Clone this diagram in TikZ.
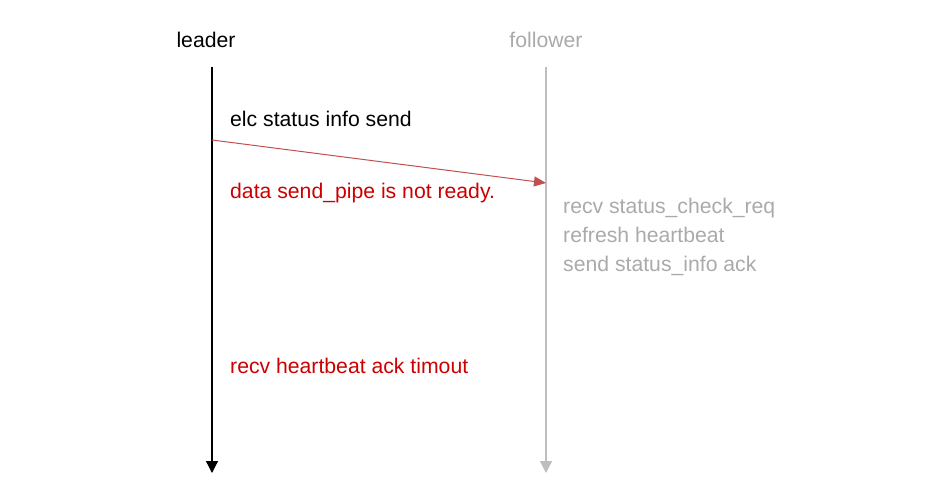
\documentclass[tikz,border=0pt]{standalone}
\usepackage{fontspec}
\setmainfont{Liberation Sans}
\usetikzlibrary{arrows.meta}
\definecolor{lgray}{RGB}{190,190,190}
\definecolor{tgray}{RGB}{170,170,170}
\definecolor{msgred}{RGB}{192,80,77}
\definecolor{txtred}{RGB}{204,0,0}
\begin{document}
\begin{tikzpicture}[x=1pt,y=-1pt,
  lbl/.style={inner sep=0pt,font=\fontsize{21.2}{25}\selectfont},
  lifeline/.style={line width=1.3pt,-{Triangle[length=12pt,width=12pt]}}]
\useasboundingbox (0,0) rectangle (931,502);
\node[lbl,anchor=base] (leader) at (206,48) {leader};
\node[lbl,anchor=base,text=tgray] (follower) at (546,48) {follower};
\coordinate (lt) at (212,67);
\coordinate (lb) at (212,473);
\coordinate (ft) at (546,67);
\coordinate (fb) at (546,473);
\draw[lifeline,black] (lt) -- (lb);
\draw[lifeline,lgray] (ft) -- (fb);
\coordinate (ms) at (212,140);
\coordinate (me) at (546,183);
\draw[msgred,line width=1pt,-{Triangle[length=12pt,width=10pt]}] (ms) -- (me);
\node[lbl,anchor=base west] (t1) at (230,127) {elc status info send};
\node[lbl,anchor=base west,text=txtred] (t2) at (230,199) {data send\_pipe is not ready.};
\node[lbl,anchor=base west,text=tgray] (t3) at (563,214) {recv status\_check\_req};
\node[lbl,anchor=base west,text=tgray] (t4) at (563,243) {refresh heartbeat};
\node[lbl,anchor=base west,text=tgray] (t5) at (563,272) {send status\_info ack};
\node[lbl,anchor=base west,text=txtred] (t6) at (230,373) {recv heartbeat ack timout};
\end{tikzpicture}
\end{document}
